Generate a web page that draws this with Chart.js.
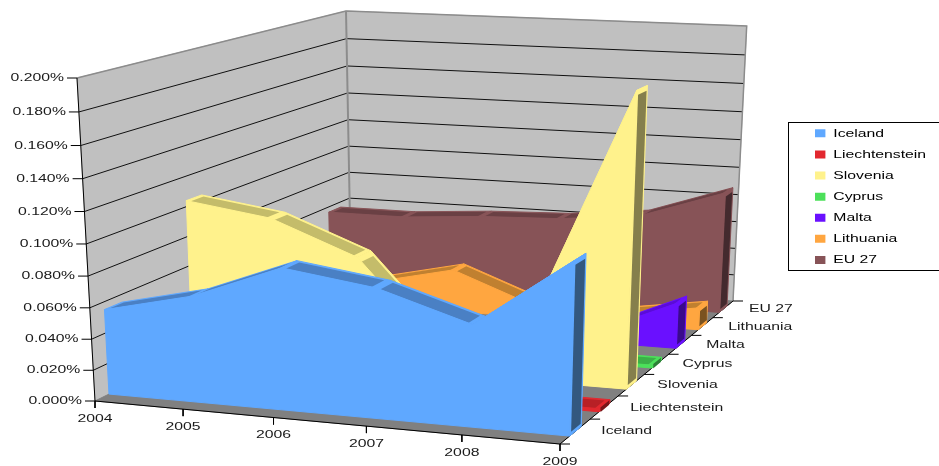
<!DOCTYPE html>
<html>
<head>
<meta charset="utf-8">
<style>
body { margin: 0; background: #fff; }
canvas { display: block; }
</style>
<script src="https://cdn.jsdelivr.net/npm/chart.js@4/dist/chart.umd.min.js"></script>
</head>
<body>
<canvas id="myChart" width="939" height="466"></canvas>
<script>
// values (percent)
var years = ['2004', '2005', '2006', '2007', '2008', '2009'];
var seriesNames = ['Iceland', 'Liechtenstein', 'Slovenia', 'Cyprus', 'Malta', 'Lithuania', 'EU 27'];
var iceland = [0.055, 0.068, 0.090, 0.082, 0.064, 0.107];
var liechtenstein = [0.002, 0.002, 0.002, 0.002, 0.002, 0.002];
var slovenia = [0.104, 0.096, 0.074, 0.012, 0.050, 0.190];
var cyprus = [0.002, 0.002, 0.002, 0.002, 0.002, 0.002];
var malta = [0.004, 0.004, 0.004, 0.005, 0.006, 0.032];
var lithuania = [0.015, 0.018, 0.031, 0.009, 0.007, 0.016];
var eu27 = [0.056, 0.056, 0.060, 0.062, 0.068, 0.088];
var valueTicks = [0, 0.02, 0.04, 0.06, 0.08, 0.1, 0.12, 0.14, 0.16, 0.18, 0.2];
var valueLabels = ['0.000%', '0.020%', '0.040%', '0.060%', '0.080%', '0.100%', '0.120%', '0.140%', '0.160%', '0.180%', '0.200%'];

var seriesValues = [iceland, liechtenstein, slovenia, cyprus, malta, lithuania, eu27];
var colors = ['#5fa8ff', '#e2282f', '#fff28c', '#4ce05a', '#6a10ff', '#ffa640', '#875357'];
var topColors = ['#4a80c4', '#b82026', '#c4bc6a', '#3cb048', '#5a0cd8', '#c08030', '#6a4044'];
var capColors = ['#33587f', '#7a1519', '#857f4c', '#2c8036', '#3a0a8c', '#7a5220', '#442a2e'];

var textFont = '11.5px "Liberation Sans"';
var textStretch = 1.37; // the original text is wider than it is tall
var maxValue = 0.2;
var heightBend = 0.054; // value spacing grows a little towards the top of the box

// maps the unit square on to a four cornered shape
function squareToQuad(q) {
    var dx1 = q[1][0] - q[2][0], dx2 = q[3][0] - q[2][0], sx = q[0][0] - q[1][0] + q[2][0] - q[3][0];
    var dy1 = q[1][1] - q[2][1], dy2 = q[3][1] - q[2][1], sy = q[0][1] - q[1][1] + q[2][1] - q[3][1];
    var det = dx1 * dy2 - dx2 * dy1;
    var g = (sx * dy2 - dx2 * sy) / det;
    var h = (dx1 * sy - sx * dy1) / det;
    var a = q[1][0] - q[0][0] + g * q[1][0], b = q[3][0] - q[0][0] + h * q[3][0];
    var d = q[1][1] - q[0][1] + g * q[1][1], e = q[3][1] - q[0][1] + h * q[3][1];
    return function(u, v) {
        var w = g * u + h * v + 1;
        return [(a * u + b * v + q[0][0]) / w, (d * u + e * v + q[0][1]) / w];
    };
}

// view of the box: front left, front right, back right, back left
var floorMap = squareToQuad([[95, 401], [560, 444], [733, 301], [351, 274]]);
var topMap = squareToQuad([[77, 78], [568, 104], [746.7, 26], [346, 11]]);

function project(x, z, value) {
    var p0 = floorMap(x, z);
    var p1 = topMap(x, z);
    var t = value / maxValue;
    t = t * (1 - heightBend) / (1 - heightBend * t);
    return { x: p0[0] + (p1[0] - p0[0]) * t, y: p0[1] + (p1[1] - p0[1]) * t };
}

var shapes = [];

function addPoly(points, fill, stroke, width) {
    shapes.push({
        data: points.concat([points[0]]),
        showLine: true,
        fill: 'shape',
        backgroundColor: fill,
        borderColor: stroke || fill,
        borderWidth: width === undefined ? 1 : width,
        pointRadius: 0,
        tension: 0,
        clip: false
    });
}

function addLine(points, color, width) {
    shapes.push({
        data: points,
        showLine: true,
        fill: false,
        borderColor: color,
        borderWidth: width,
        pointRadius: 0,
        tension: 0,
        clip: false
    });
}

// walls and floor
addPoly([project(0, 0, 0), project(0, 0, maxValue), project(0, 1, maxValue), project(0, 1, 0)], '#c0c0c0');
addPoly([project(0, 1, 0), project(0, 1, maxValue), project(1, 1, maxValue), project(1, 1, 0)], '#c0c0c0');
addPoly([project(0, 0, 0), project(1, 0, 0), project(1, 1, 0), project(0, 1, 0)], '#808080');

// gridlines
for (var g = 0; g < valueTicks.length; g++) {
    if (valueTicks[g] > 0 && valueTicks[g] < maxValue) {
        addLine([project(0, 0, valueTicks[g]), project(0, 1, valueTicks[g]), project(1, 1, valueTicks[g])], '#111', 1);
    }
}
addLine([project(0, 0, maxValue), project(0, 1, maxValue), project(1, 1, maxValue), project(1, 1, 0)], '#8c8c8c', 1.5);
addLine([project(0, 1, 0), project(0, 1, maxValue)], '#8c8c8c', 2);

// axes
addLine([project(0, 0, maxValue), project(0, 0, 0), project(1, 0, 0), project(1, 1, 0)], '#000', 1);
valueTicks.forEach(function(v) {
    var p = project(0, 0, v);
    addLine([{ x: p.x - 10, y: p.y }, p], '#000', 1);
});
years.forEach(function(y, i) {
    var p = project(i / 5, 0, 0);
    addLine([p, { x: p.x, y: p.y + 7 }], '#000', 1);
});
for (var t = 0; t <= seriesNames.length; t++) {
    var tp = project(1, t / seriesNames.length, 0);
    addLine([tp, { x: tp.x + 10, y: tp.y }], '#000', 1);
}

// one slab per country, from the back wall forward
for (var s = seriesValues.length - 1; s >= 0; s--) {
    var vals = seriesValues[s];
    var z0 = (s + 0.31) / seriesNames.length;
    var z1 = (s + 0.70) / seriesNames.length;
    var inX = 0.009, inZ = 0.007;

    for (var k = 0; k < vals.length - 1; k++) {
        var xa = k / 5, xb = (k + 1) / 5;
        addPoly([project(xa, z0, vals[k]), project(xb, z0, vals[k + 1]), project(xb, z1, vals[k + 1]), project(xa, z1, vals[k])], colors[s]);
        var va = vals[k] + (vals[k + 1] - vals[k]) * inX / 0.2;
        var vb = vals[k + 1] - (vals[k + 1] - vals[k]) * inX / 0.2;
        addPoly([project(xa + inX, z0, va), project(xb - inX, z0, vb), project(xb - inX, z1 - inZ, vb), project(xa + inX, z1 - inZ, va)], topColors[s], topColors[s], 0);
    }

    var last = vals[vals.length - 1];
    addPoly([project(1, z0, 0), project(1, z1, 0), project(1, z1, last), project(1, z0, last)], colors[s]);
    addPoly([project(1, z0 + inZ, 0.002), project(1, z1 - inZ / 2, 0.002), project(1, z1 - inZ / 2, last - 0.003), project(1, z0 + inZ, last - 0.003)], capColors[s], capColors[s], 0);

    var face = [project(0, z0, 0)];
    vals.forEach(function(v, i) { face.push(project(i / 5, z0, v)); });
    face.push(project(1, z0, 0));
    addPoly(face, colors[s]);
}

// first dataset in the list has to be painted first
shapes.forEach(function(d, i) { d.order = shapes.length - i; });

var framePlugin = {
    id: 'frame',
    beforeDraw: function(chart) {
        var ctx = chart.ctx;
        ctx.save();
        ctx.strokeStyle = '#000';
        ctx.lineWidth = 1;
        ctx.strokeRect(788.5, 122.5, 170, 148);
        ctx.restore();

        var legend = chart.legend;
        var pad = legend.options.labels.padding;
        legend.left = 815 / textStretch - pad;
        legend.right = 950 / textStretch;
        legend.top = 118;
        legend.bottom = 400;

        ctx.save();
        ctx.scale(textStretch, 1);
    },
    beforeDatasetsDraw: function(chart) {
        chart.ctx.restore();
    },
    afterDraw: function(chart) {
        var ctx = chart.ctx;
        ctx.save();
        ctx.font = textFont;
        ctx.fillStyle = '#1a1a1a';
        ctx.textBaseline = 'middle';

        function put(text, x, y, align) {
            ctx.textAlign = align;
            ctx.fillText(text, x / textStretch, y);
        }

        ctx.scale(textStretch, 1);
        valueTicks.forEach(function(v, i) {
            var p = project(0, 0, v);
            put(valueLabels[i], p.x - 13, p.y, 'right');
        });
        years.forEach(function(y, i) {
            var p = project(i / 5, 0, 0);
            put(y, p.x, p.y + 17.5, 'center');
        });
        seriesNames.forEach(function(n, i) {
            var p = project(1, (i + 0.5) / seriesNames.length, 0);
            put(n, p.x + 26, p.y, 'left');
        });
        ctx.restore();
    }
};

var ctx = document.getElementById('myChart').getContext('2d');
var chart = new Chart(ctx, {
    type: 'scatter',
    data: { datasets: shapes },
    plugins: [framePlugin],
    options: {
        responsive: false,
        animation: false,
        layout: { padding: 0 },
        scales: {
            x: { type: 'linear', min: 0, max: 939, display: false },
            y: { type: 'linear', min: 0, max: 466, reverse: true, display: false }
        },
        plugins: {
            tooltip: { enabled: false },
            legend: {
                display: true,
                position: 'chartArea',
                align: 'start',
                labels: {
                    boxWidth: 7.6,
                    boxHeight: 8,
                    padding: 9.6,
                    color: '#1a1a1a',
                    font: { family: 'Liberation Sans', size: 11.5 },
                    generateLabels: function() {
                        return seriesNames.map(function(n, i) {
                            return { text: n, fillStyle: colors[i], strokeStyle: colors[i], lineWidth: 0, hidden: false };
                        });
                    }
                }
            }
        }
    }
});
</script>
</body>
</html>
